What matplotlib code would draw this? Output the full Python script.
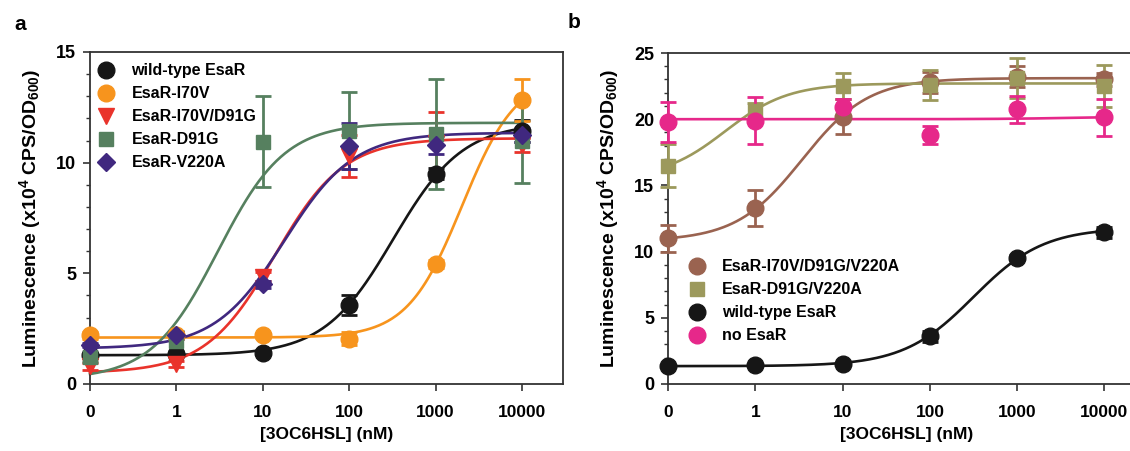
import numpy as np
import matplotlib
matplotlib.use("Agg")
import matplotlib.pyplot as plt
from matplotlib.lines import Line2D

plt.rcParams['font.family'] = ['Liberation Sans', 'DejaVu Sans']
plt.rcParams['font.weight'] = 'bold'
plt.rcParams['mathtext.fontset'] = 'custom'
plt.rcParams['mathtext.rm'] = 'Liberation Sans:bold'
plt.rcParams['mathtext.bf'] = 'Liberation Sans:bold'
plt.rcParams['mathtext.it'] = 'Liberation Sans:bold'
plt.rcParams['mathtext.default'] = 'rm'

# ---------------- data ----------------
conc = [0, 1, 10, 100, 1000, 10000]
xtick_labels = ['0', '1', '10', '100', '1000', '10000']

# Panel a
a_names = ['wild-type EsaR', 'EsaR-I70V', 'EsaR-I70V/D91G', 'EsaR-D91G', 'EsaR-V220A']
a_colors = ['#161616', '#f7941d', '#e9332b', '#56805f', '#40287f']
a_markers = ['o', 'o', 'v', 's', 'D']
a_wt = [1.3, 1.35, 1.42, 3.55, 9.5, 11.45]
a_wt_err = [0.1, 0.1, 0.12, 0.45, 0.25, 0.5]
a_i70v = [2.2, 2.2, 2.2, 2.05, 5.42, 12.85]
a_i70v_err = [0.15, 0.15, 0.12, 0.3, 0.2, 0.95]
a_i70v_d91g = [0.8, 0.9, 4.85, 10.3, 10.9, 10.8]
a_i70v_d91g_err = [0.15, 0.15, 0.2, 0.95, 1.4, 0.3]
a_d91g = [1.2, 1.95, 10.95, 11.45, 11.3, 11.0]
a_d91g_err = [0.2, 0.45, 2.05, 1.75, 2.5, 1.9]
a_v220a = [1.75, 2.2, 4.5, 10.75, 10.8, 11.25]
a_v220a_err = [0.1, 0.15, 0.15, 1.05, 0.4, 0.3]
a_values = [a_wt, a_i70v, a_i70v_d91g, a_d91g, a_v220a]
a_errors = [a_wt_err, a_i70v_err, a_i70v_d91g_err, a_d91g_err, a_v220a_err]
# fitted dose-response curves (bottom, top, midpoint on plotted axis, hill)
a_fit_bottom = [1.3, 2.1, 0.5, 0.2, 1.6]
a_fit_top = [11.8, 14.0, 11.1, 11.8, 11.35]
a_fit_mid = [3.51, 4.305, 2.137, 1.48, 2.25]
a_fit_hill = [1.08, 1.37, 1.08, 1.12, 1.08]

# Panel b
b_names = ['EsaR-I70V/D91G/V220A', 'EsaR-D91G/V220A', 'wild-type EsaR', 'no EsaR']
b_colors = ['#9a6350', '#9c995c', '#161616', '#e6288a']
b_markers = ['o', 's', 'o', 'o']
b_triple = [11.0, 13.3, 20.2, 22.8, 23.2, 23.0]
b_triple_err = [1.0, 1.35, 1.3, 0.8, 0.8, 0.5]
b_double = [16.5, 20.6, 22.5, 22.6, 23.1, 22.5]
b_double_err = [1.6, 0.6, 1.0, 1.15, 1.5, 1.6]
b_wt = [1.35, 1.4, 1.5, 3.6, 9.55, 11.45]
b_wt_err = [0.1, 0.1, 0.1, 0.4, 0.2, 0.4]
b_none = [19.8, 19.9, 20.9, 18.8, 20.75, 20.15]
b_none_err = [1.5, 1.75, 0.65, 0.7, 1.0, 1.4]
b_values = [b_triple, b_double, b_wt, b_none]
b_errors = [b_triple_err, b_double_err, b_wt_err, b_none_err]
b_fit_bottom = [10.8, 15.5, 1.35, 20.0]
b_fit_top = [23.1, 22.7, 11.8, 20.2]
b_fit_mid = [1.537, 0.657, 3.5, 4.6]
b_fit_hill = [1.145, 1.206, 1.08, 1.0]


def to_pos(c):
    c = np.asarray(c, dtype=float)
    return np.where(c <= 0, 0.0, np.log10(np.where(c <= 0, 1, c)) + 1)


def logistic(x, bottom, top, mid, hill):
    return bottom + (top - bottom) / (1 + 10 ** ((mid - x) * hill))


def msize(marker):
    return {'o': 12, 'v': 12, 's': 10, 'D': 9.5}[marker]


xpos = to_pos(conc)
xs = np.linspace(xpos.min(), xpos.max(), 300)

W, H = 1130, 451
fig = plt.figure(figsize=(W / 100, H / 100), dpi=100)

spine_col = '#333333'


def style_axes(ax, ymax, show_right=True):
    ax.set_xlim(0, 5.47)
    ax.set_ylim(0, ymax)
    ax.set_xticks(xpos)
    ax.set_xticklabels(xtick_labels)
    ax.set_yticks(np.arange(0, ymax + 0.1, 5))
    ax.set_yticks(np.arange(0, ymax + 0.1, 1), minor=True)
    ax.tick_params(axis='both', which='major', direction='out', length=5,
                   width=1.2, color=spine_col, pad=10)
    ax.tick_params(axis='x', which='major', labelsize=12.5)
    ax.tick_params(axis='y', which='major', pad=5, labelsize=13)
    ax.tick_params(axis='y', which='minor', direction='out', length=3,
                   width=1.0, color=spine_col)
    for s in ax.spines.values():
        s.set_color(spine_col)
        s.set_linewidth(1.3)
    ax.spines['right'].set_visible(show_right)
    for lab in ax.get_xticklabels() + ax.get_yticklabels():
        lab.set_fontweight('bold')
    ax.set_xlabel('[3OC6HSL] (nM)', fontsize=12.5, fontweight='bold', labelpad=5)
    ax.set_ylabel('Luminescence (x10$^{4}$ CPS/OD$_{600}$)', fontsize=14,
                  fontweight='bold')


def draw_series(ax, vals, errs, color, marker, b, t, m, h):
    ax.plot(xs, logistic(xs, b, t, m, h), color=color, lw=1.9, zorder=2,
            clip_on=False)
    ax.errorbar(xpos, vals, yerr=errs, fmt=marker, color=color, ms=msize(marker),
                mec=color, mfc=color, ecolor=color, elinewidth=2.0,
                capsize=6, capthick=2.0, zorder=3, clip_on=False)


# ---- panel a ----
ax1 = fig.add_axes([90 / W, (H - 384) / H, 472.7 / W, 332 / H])
for i in range(len(a_names)):
    draw_series(ax1, a_values[i], a_errors[i], a_colors[i], a_markers[i],
                a_fit_bottom[i], a_fit_top[i], a_fit_mid[i], a_fit_hill[i])
style_axes(ax1, 15, True)
ax1.yaxis.set_label_coords(-0.0995, 0.5)
handles = [Line2D([], [], ls='none', marker=mk, color=c, mec=c, mfc=c,
                  ms=msize(mk)) for mk, c in zip(a_markers, a_colors)]
leg = ax1.legend(handles, a_names, loc='upper left', bbox_to_anchor=(0.0, 0.99),
                 frameon=False, fontsize=11.5, handletextpad=1.1,
                 labelspacing=0.5, borderaxespad=0.1, handlelength=1.0)
for txt in leg.get_texts():
    txt.set_fontweight('bold')

# ---- panel b ----
ax2 = fig.add_axes([668 / W, (H - 384) / H, 477.5 / W, 331 / H])
for i in range(len(b_names)):
    draw_series(ax2, b_values[i], b_errors[i], b_colors[i], b_markers[i],
                b_fit_bottom[i], b_fit_top[i], b_fit_mid[i], b_fit_hill[i])
style_axes(ax2, 25, False)
ax2.yaxis.set_label_coords(-0.098, 0.5)
handles = [Line2D([], [], ls='none', marker=mk, color=c, mec=c, mfc=c,
                  ms=msize(mk)) for mk, c in zip(b_markers, b_colors)]
leg2 = ax2.legend(handles, b_names, loc='upper left', bbox_to_anchor=(0.02, 0.41),
                  frameon=False, fontsize=11.5, handletextpad=1.1,
                  labelspacing=0.5, borderaxespad=0.3, handlelength=1.0)
for txt in leg2.get_texts():
    txt.set_fontweight('bold')

fig.text(14 / W, 1 - 24 / H, 'a', fontsize=15, fontweight='bold', va='center')
fig.text(568 / W, 1 - 22 / H, 'b', fontsize=15, fontweight='bold', va='center')

fig.savefig('out.png', dpi=100)
